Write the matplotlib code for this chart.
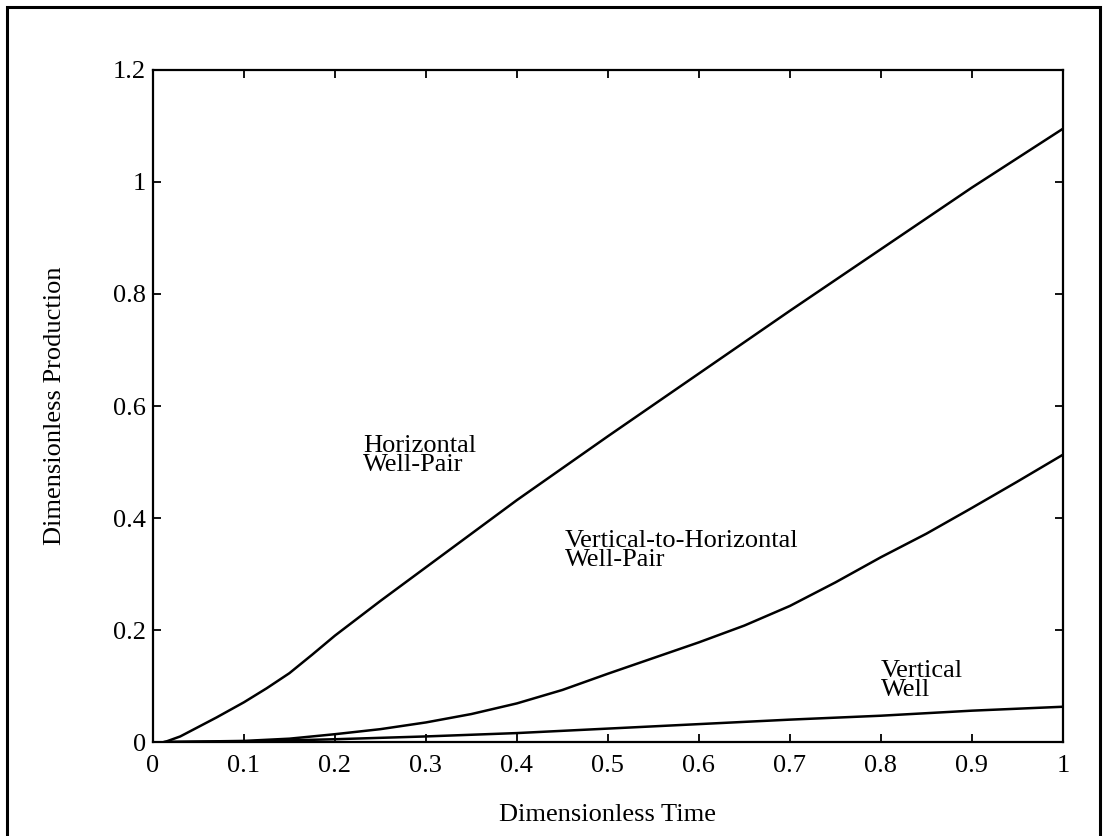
import matplotlib

matplotlib.use("Agg")
import matplotlib.pyplot as plt  # noqa: E402
from matplotlib.patches import Rectangle  # noqa: E402

plt.rcParams["font.family"] = ["Liberation Serif", "DejaVu Serif"]

# 数据：估计值
t_hwp = [0.013, 0.03, 0.05, 0.07, 0.1, 0.125, 0.15, 0.175, 0.2, 0.25, 0.3,
         0.4, 0.5, 0.6, 0.7, 0.8, 0.9, 1.0]
p_hwp = [0.0, 0.010, 0.027, 0.044, 0.071, 0.096, 0.123, 0.156, 0.190, 0.252, 0.312,
         0.432, 0.546, 0.658, 0.770, 0.880, 0.990, 1.095]

t_vhwp = [0.013, 0.1, 0.15, 0.2, 0.25, 0.3, 0.35, 0.4, 0.45, 0.5, 0.55, 0.6,
          0.65, 0.7, 0.75, 0.8, 0.85, 0.9, 0.95, 1.0]
p_vhwp = [0.0, 0.002, 0.006, 0.014, 0.023, 0.035, 0.050, 0.069, 0.093, 0.122, 0.150, 0.178,
          0.208, 0.243, 0.285, 0.330, 0.372, 0.418, 0.465, 0.513]

t_vw = [0.013, 0.1, 0.2, 0.3, 0.4, 0.5, 0.6, 0.7, 0.8, 0.9, 1.0]
p_vw = [0.0, 0.001, 0.005, 0.010, 0.016, 0.024, 0.032, 0.040, 0.047, 0.056, 0.063]

xticks = [0, 0.1, 0.2, 0.3, 0.4, 0.5, 0.6, 0.7, 0.8, 0.9, 1]
xticklabels = ["0", "0.1", "0.2", "0.3", "0.4", "0.5", "0.6", "0.7", "0.8", "0.9", "1"]
yticks = [0, 0.2, 0.4, 0.6, 0.8, 1.0, 1.2]
yticklabels = ["0", "0.2", "0.4", "0.6", "0.8", "1", "1.2"]

fig = plt.figure(figsize=(11.06, 8.36), dpi=100)
ax = fig.add_axes([0.1383, 0.1124, 0.961 - 0.1383, 0.9163 - 0.1124])

for t, p in [(t_hwp, p_hwp), (t_vhwp, p_vhwp), (t_vw, p_vw)]:
    ax.plot(t, p, color="black", lw=1.8)

ax.set_xlim(0, 1)
ax.set_ylim(0, 1.2)
ax.set_xticks(xticks)
ax.set_xticklabels(xticklabels)
ax.set_yticks(yticks)
ax.set_yticklabels(yticklabels)
ax.tick_params(direction="in", top=True, right=True, length=6, width=1.3,
               labelsize=19)
ax.tick_params(axis="x", pad=9)
ax.tick_params(axis="y", pad=5)
for s in ax.spines.values():
    s.set_linewidth(1.6)

ax.set_xlabel("Dimensionless Time", fontsize=19, labelpad=20)
ax.set_ylabel("Dimensionless Production", fontsize=19, labelpad=34)

txt = dict(fontsize=19, va="top", ha="left", linespacing=0.8)
ax.text(0.231, 0.548, "Horizontal\nWell-Pair", **txt)
ax.text(0.453, 0.378, "Vertical-to-Horizontal\nWell-Pair", **txt)
ax.text(0.800, 0.146, "Vertical\nWell", **txt)

# 外框
fig.patches.append(Rectangle((7 / 1106, -0.02), 1093 / 1106, 1.02 - 7 / 836,
                             transform=fig.transFigure, fill=False,
                             edgecolor="black", lw=2.2))

fig.savefig("out.png", dpi=100)
